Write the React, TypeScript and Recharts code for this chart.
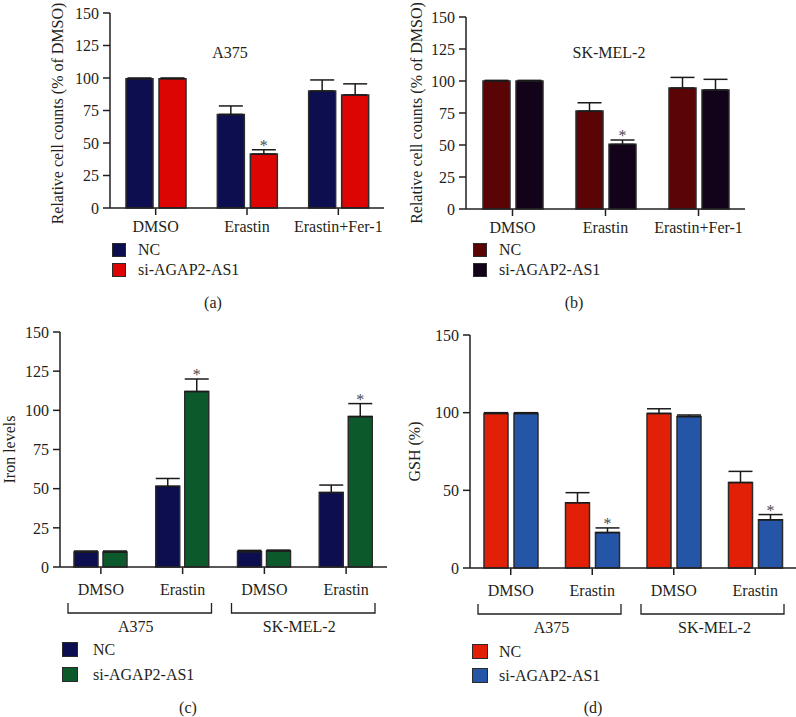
import React from 'react'
import { BarChart, Bar, XAxis, YAxis, ErrorBar, LabelList } from 'recharts'

const FONT = '"Liberation Serif", "DejaVu Serif", "Times New Roman", serif'
const TEXT = '#231f20'
const AXIS = '#231f20'
const OUTLINE = '#2b2b2b'
const FS = 16
const LABEL_FS = 16

const SERIES = ['NC', 'si-AGAP2-AS1']

// (a) A375 — relative cell counts
const AB_CATS = ['DMSO', 'Erastin', 'Erastin+Fer-1']
const A_NC = [99.5, 72, 90]
const A_NC_ERR = [0.5, 6.5, 8.5]
const A_SI = [99.5, 41.5, 87]
const A_SI_ERR = [0.5, 3.3, 8.5]
const A_SIG = [false, true, false]

// (b) SK-MEL-2 — relative cell counts
const B_NC = [100, 76.5, 94.5]
const B_NC_ERR = [0.5, 6.5, 8.3]
const B_SI = [100, 50.5, 93]
const B_SI_ERR = [0.5, 3.4, 8.3]
const B_SIG = [false, true, false]

// (c) iron levels, (d) GSH
const CD_CATS = ['DMSO', 'Erastin', 'DMSO', 'Erastin']
const CD_GROUPS = ['A375', 'SK-MEL-2']
const C_NC = [9.5, 51.5, 9.8, 47.5]
const C_NC_ERR = [0.7, 5, 0.8, 4.8]
const C_SI = [9.5, 112, 10.2, 96]
const C_SI_ERR = [0.7, 8, 0.6, 8.3]
const C_SIG = [false, true, false, true]

const D_NC = [99.5, 42, 99.5, 55]
const D_NC_ERR = [0.5, 6.5, 3, 7.2]
const D_SI = [99.5, 22.8, 97.5, 31]
const D_SI_ERR = [0.5, 3, 1, 3.4]
const D_SIG = [false, true, false, true]

const TICKS_25 = [0, 25, 50, 75, 100, 125, 150]
const TICKS_50 = [0, 50, 100, 150]

type PanelCfg = {
  left: number; top: number; width: number; height: number
  margin: { top: number; right: number; bottom: number; left: number }
  yWidth: number; xHeight: number; xTickMargin: number
  cats: string[]; groups?: string[]; groupDx?: number
  nc: number[]; ncErr: number[]; si: number[]; siErr: number[]; sig: boolean[]
  colors: [string, string]
  barSize: number; barGap: number
  yTicks: number[]; yLabel: string; yLabelDx: number; yLabelDy?: number
}

function Panel(p: PanelCfg) {
  const data = p.cats.map((c, i) => ({
    key: String(i),
    nc: p.nc[i],
    si: p.si[i],
    ncErr: [0, p.ncErr[i]],
    siErr: [0, p.siErr[i]],
  }))
  const plotW = p.width - p.margin.left - p.margin.right - p.yWidth
  const band = plotW / p.cats.length

  const renderTick = (props: any) => {
    const { x, y, payload } = props
    const i = payload?.index ?? props.index ?? 0
    const half = payload?.offset || band / 2
    return (
      <g>
        <text x={x} y={y} dy="0.71em" textAnchor="middle" fontSize={FS} fontFamily={FONT} fill={TEXT}>
          {p.cats[i]}
        </text>
        {p.groups && i % 2 === 0 && (
          <g>
            <polyline
              points={`${x - half + 8},${y + 19} ${x - half + 8},${y + 29} ${x + half * 3 - 12},${y + 29} ${x + half * 3 - 12},${y + 19}`}
              fill="none" stroke={AXIS} strokeWidth={1.3}
            />
            <text x={x + half + (p.groupDx ?? 0)} y={y + 47.5} textAnchor="middle" fontSize={FS} fontFamily={FONT} fill={TEXT}>
              {p.groups[i / 2]}
            </text>
          </g>
        )}
      </g>
    )
  }

  const renderStar = (props: any) => {
    const { x, y, width, height, value, index } = props
    if (!p.sig[index]) return null
    const top = Number(y) - (p.siErr[index] * Number(height)) / Number(value)
    return (
      <text x={Number(x) + Number(width) / 2} y={top + 1} textAnchor="middle" fontSize={FS} fontFamily={FONT}
        fill="#4a4a4a" style={{ fill: '#4a4a4a' }}>
        *
      </text>
    )
  }

  return (
    <div style={{ position: 'absolute', left: p.left, top: p.top }}>
      <BarChart width={p.width} height={p.height} data={data} margin={p.margin} barSize={p.barSize} barGap={p.barGap}>
        <XAxis
          dataKey="key" interval={0} tickSize={7} tickMargin={p.xTickMargin} height={p.xHeight}
          axisLine={{ stroke: AXIS, strokeWidth: 1.5 }} tickLine={{ stroke: AXIS, strokeWidth: 1.5 }}
          tick={renderTick}
        />
        <YAxis
          width={p.yWidth} domain={[0, 150]} ticks={p.yTicks} interval={0} tickSize={7} tickMargin={4}
          axisLine={{ stroke: AXIS, strokeWidth: 1.5 }} tickLine={{ stroke: AXIS, strokeWidth: 1.5 }}
          tick={{ fontSize: FS, fill: TEXT, fontFamily: FONT }}
          label={{
            value: p.yLabel, angle: -90, position: 'center', dx: p.yLabelDx, dy: p.yLabelDy ?? 0,
            fill: TEXT, fontSize: LABEL_FS, fontFamily: FONT,
          }}
        />
        <Bar dataKey="nc" name={SERIES[0]} fill={p.colors[0]} stroke={OUTLINE} strokeWidth={1.5} isAnimationActive={false}>
          <ErrorBar dataKey="ncErr" width={12} stroke="#1a1a1a" strokeWidth={1.5} direction="y" />
        </Bar>
        <Bar dataKey="si" name={SERIES[1]} fill={p.colors[1]} stroke={OUTLINE} strokeWidth={1.5} isAnimationActive={false}>
          <ErrorBar dataKey="siErr" width={12} stroke="#1a1a1a" strokeWidth={1.5} direction="y" />
          <LabelList dataKey="si" content={renderStar} />
        </Bar>
      </BarChart>
    </div>
  )
}

function Txt({ x, y, children }: { x: number; y: number; children: React.ReactNode }) {
  return (
    <div style={{
      position: 'absolute', left: x, top: y, transform: 'translate(-50%, -50%)',
      fontFamily: FONT, fontSize: FS, color: TEXT, lineHeight: 1, whiteSpace: 'nowrap',
    }}>
      {children}
    </div>
  )
}

function Key({ x, ys, w, h, textX, colors }: { x: number; ys: number[]; w: number; h: number; textX: number; colors: string[] }) {
  return (
    <>
      {SERIES.map((s, i) => (
        <React.Fragment key={s}>
          <div style={{
            position: 'absolute', left: x, top: ys[i], width: w, height: h, boxSizing: 'border-box',
            background: colors[i], border: `1.5px solid ${OUTLINE}`,
          }} />
          <div style={{
            position: 'absolute', left: textX, top: ys[i] + h / 2, transform: 'translateY(-50%)',
            fontFamily: FONT, fontSize: FS, color: TEXT, lineHeight: 1, whiteSpace: 'nowrap',
          }}>{s}</div>
        </React.Fragment>
      ))}
    </>
  )
}

const A_COLORS: [string, string] = ['#0c0e50', '#dd0404']
const B_COLORS: [string, string] = ['#5b0406', '#12031a']
const C_COLORS: [string, string] = ['#0c0e50', '#0c5a2c']
const D_COLORS: [string, string] = ['#e22007', '#2455a6']

export default function App() {
  return (
    <div style={{ position: 'absolute', left: 0, top: 0, width: 796, height: 717, background: '#fff', overflow: 'hidden' }}>
      <Panel
        left={0} top={0} width={396} height={320}
        margin={{ top: 13, right: 12, bottom: 72, left: 0 }}
        yWidth={110} xHeight={40} xTickMargin={6}
        cats={AB_CATS} nc={A_NC} ncErr={A_NC_ERR} si={A_SI} siErr={A_SI_ERR} sig={A_SIG}
        colors={A_COLORS} barSize={27} barGap={6}
        yTicks={TICKS_25} yLabel="Relative cell counts (% of DMSO)" yLabelDx={2} yLabelDy={3}
      />
      <Panel
        left={396} top={0} width={400} height={320}
        margin={{ top: 17, right: 51, bottom: 71, left: 0 }}
        yWidth={70} xHeight={40} xTickMargin={6}
        cats={AB_CATS} nc={B_NC} ncErr={B_NC_ERR} si={B_SI} siErr={B_SI_ERR} sig={B_SIG}
        colors={B_COLORS} barSize={27} barGap={6}
        yTicks={TICKS_25} yLabel="Relative cell counts (% of DMSO)" yLabelDx={-15}
      />
      <Panel
        left={0} top={320} width={396} height={397}
        margin={{ top: 12, right: 9, bottom: 80, left: 0 }}
        yWidth={60} xHeight={70} xTickMargin={10}
        cats={CD_CATS} groups={CD_GROUPS} groupDx={-6}
        nc={C_NC} ncErr={C_NC_ERR} si={C_SI} siErr={C_SI_ERR} sig={C_SIG}
        colors={C_COLORS} barSize={24} barGap={5}
        yTicks={TICKS_25} yLabel="Iron levels" yLabelDx={-21}
      />
      <Panel
        left={396} top={320} width={400} height={397}
        margin={{ top: 15, right: 0, bottom: 79, left: 0 }}
        yWidth={74} xHeight={70} xTickMargin={10}
        cats={CD_CATS} groups={CD_GROUPS} groupDx={0}
        nc={D_NC} ncErr={D_NC_ERR} si={D_SI} siErr={D_SI_ERR} sig={D_SIG}
        colors={D_COLORS} barSize={24} barGap={6}
        yTicks={TICKS_50} yLabel="GSH (%)" yLabelDx={-19}
      />

      <Txt x={230} y={53}>A375</Txt>
      <Txt x={609} y={53}>SK-MEL-2</Txt>

      <Key x={112} ys={[243, 263]} w={14} h={14} textX={138} colors={A_COLORS} />
      <Key x={473} ys={[243, 263]} w={14} h={14} textX={499} colors={B_COLORS} />
      <Key x={62} ys={[642, 667]} w={16} h={15} textX={93} colors={C_COLORS} />
      <Key x={472} ys={[644, 668]} w={16} h={15} textX={499} colors={D_COLORS} />

      <Txt x={213} y={303}>(a)</Txt>
      <Txt x={574} y={303}>(b)</Txt>
      <Txt x={188} y={708}>(c)</Txt>
      <Txt x={593} y={708}>(d)</Txt>
    </div>
  )
}
